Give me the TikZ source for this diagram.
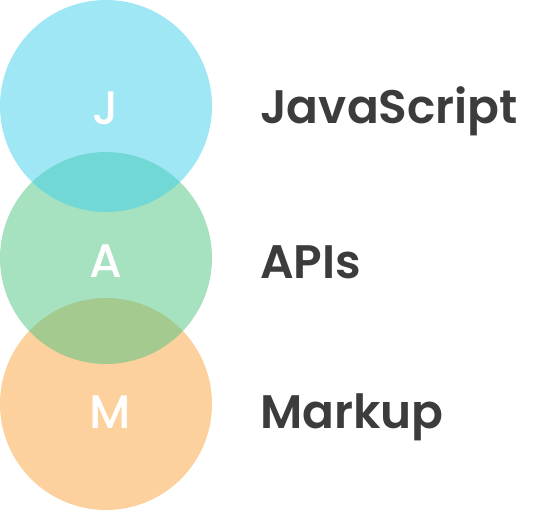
\documentclass[tikz,border=0pt]{standalone}
\usepackage{fontspec}
\setmainfont{Poppins}
\newfontfamily\labfont{Poppins}[UprightFont={* SemiBold}]
\newfontfamily\letfont{Poppins}[UprightFont={* Medium}]
\definecolor{cyanC}{RGB}{63,207,235}
\definecolor{greenC}{RGB}{77,197,129}
\definecolor{orangeC}{RGB}{251,163,61}
\definecolor{labgray}{RGB}{60,60,60}
\begin{document}
\begin{tikzpicture}[x=1pt,y=-1pt,
  disc/.style={circle,minimum size=212pt,inner sep=0pt,fill opacity=0.5,draw=none},
  letter/.style={anchor=base,inner sep=0pt,text=white,font=\letfont\fontsize{47}{47}\selectfont},
  label/.style={anchor=base west,inner sep=0pt,text=labgray,font=\labfont\fontsize{47}{47}\selectfont}]
\useasboundingbox (0,0) rectangle (540,511);
\node[disc,fill=orangeC] (cm) at (106,404) {};
\node[disc,fill=greenC] (ca) at (106,258) {};
\node[disc,fill=cyanC] (cj) at (106,106) {};
\node[letter] (lj) at (106,124) {J};
\node[letter] (la) at (106,277) {A};
\node[letter] (lm) at (110,428) {M};
\node[label] (tj) at (260,123) {JavaScript};
\node[label] (ta) at (260,278) {APIs};
\node[label] (tm) at (260,428) {Markup};
\end{tikzpicture}
\end{document}
